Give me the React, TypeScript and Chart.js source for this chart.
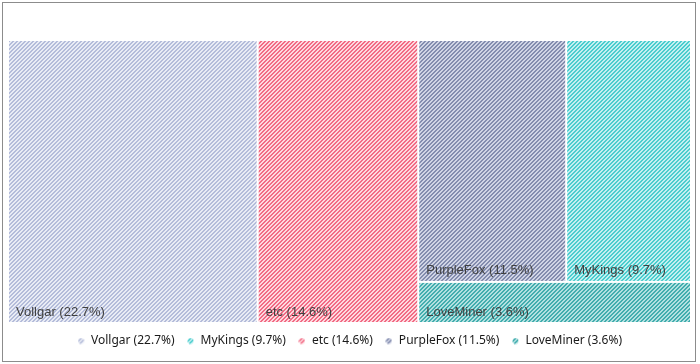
import React, { useEffect, useRef } from "react";
import { Chart, registerables } from "chart.js";

Chart.register(...registerables);

const categories = ["Vollgar", "MyKings", "etc", "PurpleFox", "LoveMiner"];
const shares = [22.7, 9.7, 14.6, 11.5, 3.6];
const stripeColors = ["#b4bcda", "#4acdce", "#f26b85", "#838cae", "#42adae"];
const groundColors = ["#e9ecf5", "#c4eff0", "#fdd9df", "#d0d4e5", "#b3e0e0"];

function makeTile(fg: string, bg: string): HTMLCanvasElement {
  const c = document.createElement("canvas");
  c.width = 4;
  c.height = 4;
  const g = c.getContext("2d")!;
  g.fillStyle = bg;
  g.fillRect(0, 0, 4, 4);
  g.fillStyle = fg;
  for (let y = 0; y < 4; y++) {
    g.fillRect((3 - y + 4) % 4, y, 1, 1);
    g.fillRect((4 - y + 4) % 4, y, 1, 1);
  }
  return c;
}

function makeIcon(fg: string, bg: string): HTMLCanvasElement {
  const c = document.createElement("canvas");
  c.width = 7;
  c.height = 7;
  const g = c.getContext("2d")!;
  const pat = g.createPattern(makeTile(fg, bg), "repeat")!;
  g.fillStyle = pat;
  g.beginPath();
  g.arc(3.5, 3.5, 3.0, 0, Math.PI * 2);
  g.fill();
  return c;
}

type Item = { i: number; area: number };
type Box = { i: number; x: number; y: number; w: number; h: number };

function worst(row: Item[], s: number): number {
  let sum = 0, mx = -Infinity, mn = Infinity;
  row.forEach((a) => {
    sum += a.area;
    mx = Math.max(mx, a.area);
    mn = Math.min(mn, a.area);
  });
  return Math.max((s * s * mx) / (sum * sum), (sum * sum) / (s * s * mn));
}

function squarify(values: number[], W: number, H: number): Box[] {
  const total = values.reduce((s, v) => s + v, 0);
  let rest: Item[] = values
    .map((v, i) => ({ i, area: (v / total) * W * H }))
    .sort((a, b) => b.area - a.area);
  let r = { x: 0, y: 0, w: W, h: H };
  const out: Box[] = [];
  while (rest.length) {
    const short = Math.min(r.w, r.h);
    let row = [rest[0]];
    let k = 1;
    while (k < rest.length) {
      const cand = row.concat([rest[k]]);
      if (worst(cand, short) <= worst(row, short)) {
        row = cand;
        k++;
      } else break;
    }
    rest = rest.slice(k);
    const sum = row.reduce((s, a) => s + a.area, 0);
    if (r.w >= r.h) {
      const sw = sum / r.h;
      let yy = r.y;
      row.forEach((a) => {
        const hh = a.area / sw;
        out.push({ i: a.i, x: r.x, y: yy, w: sw, h: hh });
        yy += hh;
      });
      r = { x: r.x + sw, y: r.y, w: r.w - sw, h: r.h };
    } else {
      const sh = sum / r.w;
      let xx = r.x;
      row.forEach((a) => {
        const ww = a.area / sh;
        out.push({ i: a.i, x: xx, y: r.y, w: ww, h: sh });
        xx += ww;
      });
      r = { x: r.x, y: r.y + sh, w: r.w, h: r.h - sh };
    }
  }
  return out;
}

export default function App() {
  const ref = useRef<HTMLCanvasElement>(null);
  useEffect(() => {
    const tiles = categories.map((_, i) => makeTile(stripeColors[i], groundColors[i]));
    const icons = categories.map((_, i) => makeIcon(stripeColors[i], groundColors[i]));
    const labels = categories.map((c, i) => `${c} (${shares[i]}%)`);

    const treemapPlugin = {
      id: "treemapDraw",
      afterDatasetsDraw(chart: any) {
        const { ctx, chartArea, scales } = chart;
        const aspect = chartArea.width / chartArea.height;
        const boxes = squarify(shares, aspect, 1);
        ctx.save();
        boxes.forEach((b) => {
          const x0 = scales.x.getPixelForValue(b.x / aspect);
          const x1 = scales.x.getPixelForValue((b.x + b.w) / aspect);
          const y0 = scales.y.getPixelForValue(b.y);
          const y1 = scales.y.getPixelForValue(b.y + b.h);
          const pat = ctx.createPattern(tiles[b.i], "repeat");
          ctx.fillStyle = pat;
          ctx.fillRect(x0 + 1, y0 + 1, x1 - x0 - 2, y1 - y0 - 2);
          ctx.fillStyle = "#404040";
          ctx.font = "13px 'Liberation Sans', Arial, sans-serif";
          ctx.textBaseline = "middle";
          ctx.textAlign = "left";
          ctx.fillText(labels[b.i], x0 + 8, y1 - 11);
        });
        ctx.restore();
      },
    };

    const chart = new Chart(ref.current!, {
      type: "scatter",
      data: {
        datasets: categories.map((c, i) => ({
          label: labels[i],
          data: [],
          backgroundColor: stripeColors[i],
        })),
      },
      options: {
        animation: false,
        responsive: true,
        maintainAspectRatio: false,
        layout: { padding: { left: 5, right: 4, top: 37, bottom: 4 } },
        scales: {
          x: { type: "linear", min: 0, max: 1, display: false },
          y: { type: "linear", min: 0, max: 1, reverse: true, display: false },
        },
        plugins: {
          tooltip: { enabled: false },
          legend: {
            position: "bottom",
            labels: {
              usePointStyle: true,
              boxWidth: 8,
              padding: 12,
              color: "#1a1a1a",
              font: { family: "'Noto Sans', 'Open Sans', sans-serif", size: 12 },
              generateLabels: () =>
                categories.map((c, i) => ({
                  text: labels[i],
                  pointStyle: icons[i],
                  fillStyle: stripeColors[i],
                  strokeStyle: stripeColors[i],
                  lineWidth: 0,
                  hidden: false,
                  datasetIndex: i,
                  fontColor: "#1a1a1a",
                })),
            },
          },
        },
      },
      plugins: [treemapPlugin],
    } as any);
    return () => chart.destroy();
  }, []);

  return (
    <div
      style={{
        position: "absolute",
        left: 2,
        top: 2,
        width: 694,
        height: 360,
        boxSizing: "border-box",
        border: "1px solid #8c8c8c",
        background: "#ffffff",
      }}
    >
      <canvas ref={ref} />
    </div>
  );
}
